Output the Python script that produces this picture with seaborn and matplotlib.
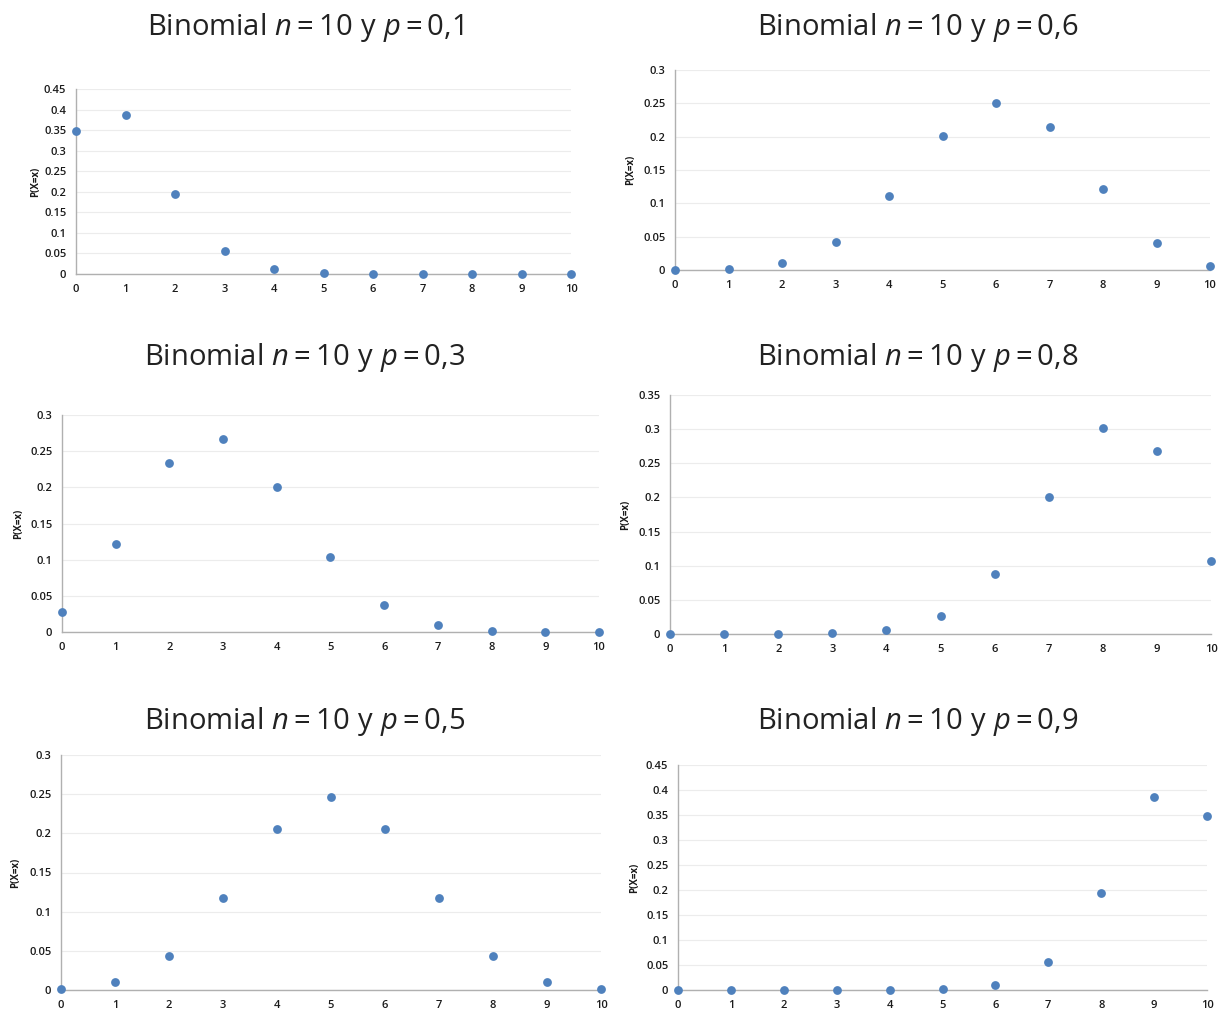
import numpy as np
import pandas as pd
import matplotlib
matplotlib.use("Agg")
import matplotlib.pyplot as plt
from matplotlib.ticker import FuncFormatter
import seaborn as sns

# Values
k_values = [0, 1, 2, 3, 4, 5, 6, 7, 8, 9, 10]
p_labels = ["0,1", "0,6", "0,3", "0,8", "0,5", "0,9"]
prob_p01 = [0.349, 0.387, 0.194, 0.057, 0.011, 0.0015, 0.0001, 0.0, 0.0, 0.0, 0.0]
prob_p06 = [0.0001, 0.0016, 0.011, 0.042, 0.111, 0.201, 0.251, 0.215, 0.121, 0.040, 0.006]
prob_p03 = [0.028, 0.121, 0.233, 0.267, 0.200, 0.103, 0.037, 0.009, 0.0014, 0.0001, 0.0]
prob_p08 = [0.0, 0.0, 0.0001, 0.0008, 0.0055, 0.026, 0.088, 0.201, 0.302, 0.268, 0.107]
prob_p05 = [0.001, 0.010, 0.044, 0.117, 0.205, 0.246, 0.205, 0.117, 0.044, 0.010, 0.001]
prob_p09 = [0.0, 0.0, 0.0, 0.0, 0.0001, 0.0015, 0.011, 0.057, 0.194, 0.387, 0.349]
y_tops = [0.45, 0.3, 0.3, 0.35, 0.3, 0.45]

series = [prob_p01, prob_p06, prob_p03, prob_p08, prob_p05, prob_p09]

sns.set_style("white")
plt.rcParams["font.family"] = ["Open Sans", "DejaVu Sans"]
plt.rcParams["mathtext.fontset"] = "custom"
plt.rcParams["mathtext.rm"] = "Open Sans"
plt.rcParams["mathtext.it"] = "Open Sans:italic"

W, H = 1221, 1015
fig = plt.figure(figsize=(W / 100, H / 100), dpi=100)

# axes boxes in pixels: x of 0, x of 10, y of 0, y of top
boxes = [(76, 571, 274, 89), (675, 1210, 270, 70),
         (62, 599, 632, 415), (670, 1211, 634, 395),
         (61, 601, 990, 755), (678, 1207, 990, 765)]
title_pos = [(305, 28), (918, 28), (305, 358), (918, 358), (305, 721), (918, 721)]
label_x = [41, 636, 24, 631, 21, 640]

blue = "#4F81BD"
for i, (probs, ptxt, top) in enumerate(zip(series, p_labels, y_tops)):
    x0, x1, y0, y1 = boxes[i]
    ax = fig.add_axes([x0 / W, (H - y0) / H, (x1 - x0) / W, (y0 - y1) / H])
    df = pd.DataFrame({"k": k_values, "prob": probs})
    sns.scatterplot(data=df, x="k", y="prob", ax=ax, color=blue, s=40,
                    edgecolor=blue, linewidth=0, clip_on=False, zorder=3)
    ax.set_xlim(0, 10)
    ax.set_ylim(0, top)
    ax.set_xticks(k_values)
    ax.set_yticks(np.arange(0, top + 0.001, 0.05))
    ax.yaxis.set_major_formatter(FuncFormatter(lambda v, _: f"{round(v, 2):g}"))
    ax.tick_params(axis="both", length=0, labelsize=8, colors="#1a1a1a", pad=7)
    for lbl in ax.get_xticklabels() + ax.get_yticklabels():
        lbl.set_fontweight("semibold")
    ax.grid(axis="y", color="#ececec", linewidth=0.8)
    ax.set_axisbelow(True)
    for side in ["top", "right"]:
        ax.spines[side].set_visible(False)
    ax.spines["left"].set_color("#b0b0b0")
    ax.spines["bottom"].set_color("#b0b0b0")
    ax.spines["left"].set_linewidth(1.0)
    ax.spines["bottom"].set_linewidth(1.0)
    ax.set_xlabel("")
    ax.set_ylabel("P(X=x)", fontsize=7, fontweight="bold", color="#1a1a1a")
    ax.yaxis.set_label_coords((label_x[i] - x0) / (x1 - x0), 0.5)

    tx, ty = title_pos[i]
    fig.text(tx / W, 1 - ty / H, rf"$\mathrm{{Binomial}}\ n = 10\ \mathrm{{y}}\ p = {ptxt.replace(',', '{,}')}$",
             ha="center", va="center", fontsize=21, color="#222222")

fig.savefig("out.png", dpi=100)
